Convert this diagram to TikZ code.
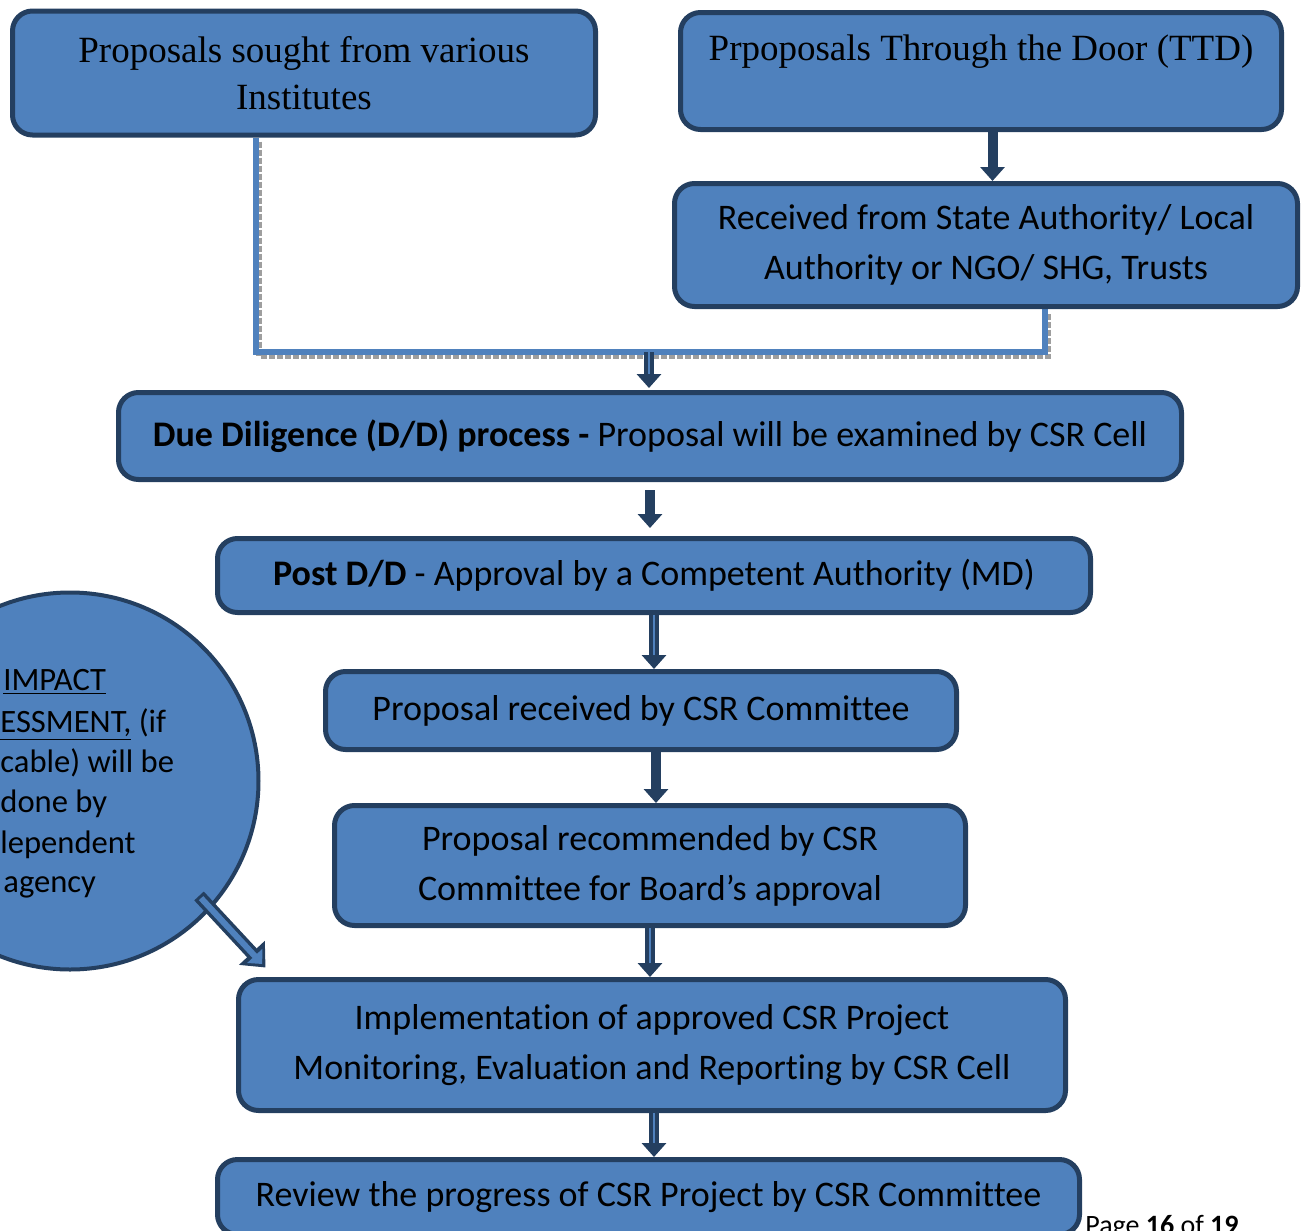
\documentclass[tikz,border=0pt]{standalone}
\usepackage{fontspec}
\setmainfont{Liberation Serif}
\newfontfamily\calibri[Ligatures=NoCommon]{Carlito}
\usetikzlibrary{
  arrows.meta,
  positioning,
  backgrounds,
  calc
}
\definecolor{csrblue}{HTML}{4F81BD}
\definecolor{csrdark}{HTML}{243F60}
\definecolor{linkgray}{gray}{0.62}

\begin{document}
\begin{tikzpicture}[
  x=0.5pt, y=-0.5pt,
  block/.style={draw=csrdark, fill=csrblue, line width=2.5pt, rounded corners=10pt,
                align=center, inner sep=0pt, text=black,
                font=\calibri\fontsize{18}{25}\selectfont},
  serifblock/.style={block, font=\fontsize{18.5}{23.5}\selectfont},
  link/.style={csrblue, line width=3pt},
  linkshade/.style={linkgray, line width=3pt, densely dotted},
  flow/.style={csrdark, line width=5pt, -{Triangle[width=12pt,length=7pt]}},
  flowcore/.style={csrblue, line width=1pt, shorten >=7pt},
  bigflow/.style={csrdark, line width=6.5pt, -{Triangle[width=17pt,length=10pt]}},
  bigcore/.style={csrblue, line width=3pt, shorten <=1.5pt, shorten >=2.4pt,
                  -{Triangle[width=10pt,length=5.5pt]}},
  ctext/.style={anchor=base west, inner sep=0pt, font=\calibri\fontsize{16.3}{20}\selectfont}
]
\useasboundingbox (0,0) rectangle (1307,1231);

%% Proposal sources
\node[serifblock, minimum width=291.5pt, minimum height=62pt]   (sought) at (304,73) {Proposals sought from various\\Institutes};
\node[serifblock, minimum width=300.5pt, minimum height=58.5pt] (ttd)    at (981,71)   {Prpoposals Through the Door (TTD)\\\mbox{}};
\node[block, minimum width=311.5pt, minimum height=61.5pt]      (recd)   at (986,245)  {Received from State Authority/ Local\\Authority or NGO/ SHG, Trusts};

%% Main column
\node[block, minimum width=531.5pt, minimum height=43.5pt] (dd)     at (650,436)    {\textbf{Due Diligence (D/D) process -} Proposal will be examined by CSR Cell};
\node[block, minimum width=436.5pt, minimum height=37pt]   (post)   at (654,575.5)  {\textbf{Post D/D} - Approval by a Competent Authority (MD)};
\node[block, minimum width=315.5pt, minimum height=39pt]   (recv)   at (641,710.5)  {Proposal received by CSR Committee};
\node[block, minimum width=315.5pt, minimum height=60pt]   (recm)   at (650,865.5)  {Proposal recommended by CSR\\Committee for Board’s approval};
\node[block, minimum width=413.5pt, minimum height=65.5pt] (impl)   at (652,1045)   {Implementation of approved CSR Project\\Monitoring, Evaluation and Reporting by CSR Cell};
\node[block, minimum width=431pt, minimum height=37.5pt]   (review) at (648.5,1197) {Review the progress of CSR Project by CSR Committee};

%% Impact assessment bubble
\node[circle, draw=csrdark, fill=csrblue, line width=2pt, minimum size=188.5pt, inner sep=0pt] (impact) at (70,781) {};
\node[ctext] (imp1) at (3,690) {\underline{IMPACT}};
\node[ctext] (imp2) at (0,732) {\underline{ESSMENT,} (if};
\node[ctext] (imp3) at (0,772) {cable) will be};
\node[ctext] (imp4) at (0,812) {done by};
\node[ctext] (imp5) at (0,853) {lependent};
\node[ctext] (imp6) at (3,892) {agency};

%% Page footer
\node[anchor=base west, inner sep=0pt, font=\calibri\fontsize{14}{17}\selectfont] (page) at (1085,1234) {Page \textbf{16} of \textbf{19}};

%% Sources merge into D/D
\coordinate (merge) at (649,352);
\begin{scope}[on background layer]
  \draw[linkshade, transform canvas={xshift=1.5pt, yshift=-2pt}] ([xshift=-24pt]sought.south) |- (merge) -| ([xshift=29.5pt]recd.south);
  \draw[link] ([xshift=-24pt]sought.south) |- (merge) -| ([xshift=29.5pt]recd.south);
\end{scope}
\draw[flow] ([xshift=5.75pt]ttd.south) -- ([xshift=5.75pt]ttd.south |- recd.north);
\draw[flow, shorten >=1pt] (merge) -- (merge |- dd.north);
\draw[flowcore, shorten >=8pt] (merge) -- (merge |- dd.north);

%% Process arrows
\draw[flow, shorten <=4pt, shorten >=4pt] (dd.south) -- (dd.south |- post.north);
\draw[flow] (post.south) -- (post.south |- recv.north);
\draw[flowcore] (post.south) -- (post.south |- recv.north);
\draw[flow] ([xshift=7.5pt]recv.south) -- ([xshift=7.5pt]recv.south |- recm.north);
\draw[flow] (recm.south) -- (recm.south |- impl.north);
\draw[flowcore] (recm.south) -- (recm.south |- impl.north);
\draw[flow] ([xshift=1pt]impl.south) -- ([xshift=1pt]impl.south |- review.north);
\draw[flowcore] ([xshift=1pt]impl.south) -- ([xshift=1pt]impl.south |- review.north);

%% Impact assessment feeds implementation
\coordinate (itail) at ($(impact.center)+(-41.7:86.4pt)$);
\draw[bigflow] (itail) -- ([shift={(14.75pt,4.75pt)}]impl.north west);
\draw[bigcore] (itail) -- ([shift={(14.75pt,4.75pt)}]impl.north west);
\end{tikzpicture}
\end{document}
